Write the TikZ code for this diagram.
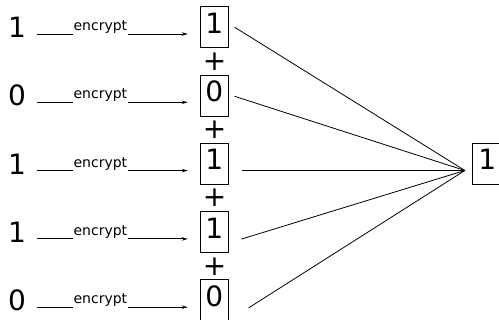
\documentclass[tikz,border=0pt]{standalone}
\usepackage{fontspec}
\setmainfont{DejaVu Sans}
\usetikzlibrary{arrows.meta}

\tikzset{
  bigfont/.style={font=\fontsize{28}{28}\selectfont},
  digit/.style={bigfont, inner sep=0pt},
  cell/.style={draw, line width=0.8pt, bigfont, inner sep=0pt,
    minimum width=28pt, text height=26.5pt, text depth=14.5pt},
  plussign/.style={bigfont, inner sep=0pt},
  enc/.style={line width=0.8pt, -{Stealth[length=6pt,width=3.5pt]}},
  enclabel/.style={font=\fontsize{14}{14}\selectfont, fill=white,
    inner xsep=0.5pt, inner ysep=1pt, anchor=base, yshift=3.4pt},
  wire/.style={line width=0.8pt},
}

\begin{document}
\begin{tikzpicture}[x=1pt, y=-1pt]
  \useasboundingbox (0,0) rectangle (499,320);
  \clip (0,0) rectangle (499,320);

  % inputs, encryptions and ciphertext cells
  \foreach \k/\bit in {1/1, 2/0, 3/1, 4/1, 5/0} {
    \pgfmathsetmacro\ly{34+68.3*(\k-1)}
    \node[digit, anchor=base] (in\k) at (17,\ly+3.5) {\bit};
    \node[cell, anchor=base] (c\k) at (214.2,\ly-0.8) {\bit};
    \draw[enc] ([shift={(11pt,3.5pt)}]in\k.base east)
      -- node[pos=0.42, enclabel] {encrypt}
      ([shift={(-12pt,-0.8pt)}]c\k.base west);
  }

  % plus signs between the cells
  \foreach \k in {1,...,4} {
    \pgfmathsetmacro\py{34+68.3*(\k-1)+27.35}
    \node[plussign] (p\k) at (214.5,\py) {+};
  }

  % result cell and the lines gathering into it
  \node[cell, minimum width=30pt] (res) at (487.3,163.5) {1};
  \coordinate (sum) at ([shift={(-7pt,-7pt)}]res.west);

  \draw[wire] ([shift={(6pt,0pt)}]c1.east) -- (sum);
  \draw[wire] ([shift={(6pt,-0.8pt)}]c2.east) -- (sum);
  \draw[wire] ([shift={(13.5pt,-6.7pt)}]c3.east) -- (sum);
  \draw[wire] ([shift={(12.8pt,-7pt)}]c4.east) -- (sum);
  \draw[wire] ([shift={(20pt,-7.5pt)}]c5.east) -- (sum);
\end{tikzpicture}
\end{document}
